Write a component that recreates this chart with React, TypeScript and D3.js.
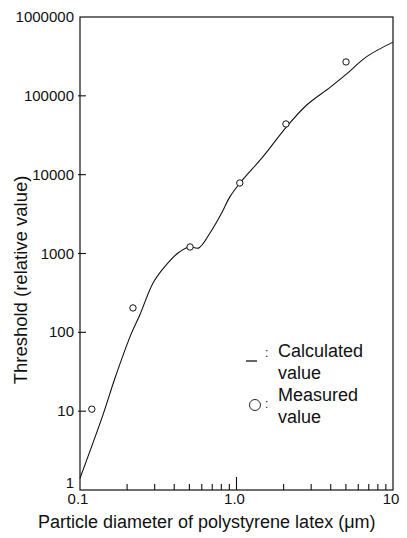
import React, { useRef, useEffect } from "react";
import * as d3 from "d3";

// calculated curve
const calcDiameter = [0.1, 0.14, 0.167, 0.213, 0.241, 0.293, 0.348, 0.423, 0.502, 0.57, 0.677, 0.804, 0.909, 1.053, 1.477, 2.093, 2.81, 3.96, 5.06, 6.79, 10];
const calcThreshold = [1.41, 8.9, 26, 97, 166, 423, 680, 1015, 1220, 1170, 1820, 3270, 5260, 7840, 16900, 40600, 76500, 128000, 190000, 314000, 480000];

// measured points
const measDiameter = [0.119, 0.218, 0.505, 1.05, 2.07, 5.01];
const measThreshold = [10.6, 204, 1210, 7840, 43950, 269000];

const yTicks = [1, 10, 100, 1000, 10000, 100000, 1000000];
const yTickLabels = ["1", "10", "100", "1000", "10000", "100000", "1000000"];
const xTicks = [0.1, 1, 10];
const xTickLabels = ["0.1", "1.0", "10"];
const xMinor = [0.2, 0.3, 0.4, 0.5, 0.6, 0.7, 0.8, 0.9, 2, 3, 4, 5, 6, 7, 8, 9];

const App = () => {
  const svgRef = useRef(null);

  useEffect(() => {
    const svg = d3.select(svgRef.current);
    svg.selectAll("*").remove();
    const font = "'Liberation Sans', Arial, Helvetica, sans-serif";
    const left = 80, right = 393, top = 17, bottom = 490;

    const x = d3.scaleLog().domain([0.1, 10]).range([left, right]);
    const y = d3.scaleLog().domain([1, 1e6]).range([bottom, top]);

    // frame
    svg
      .append("rect")
      .attr("x", left)
      .attr("y", top)
      .attr("width", right - left)
      .attr("height", bottom - top)
      .attr("fill", "none")
      .attr("stroke", "#111")
      .attr("stroke-width", 1.2);

    // y ticks
    svg
      .selectAll("line.yt")
      .data(yTicks.slice(1, -1))
      .join("line")
      .attr("class", "yt")
      .attr("x1", left - 2)
      .attr("x2", left + 6)
      .attr("y1", (d) => y(d))
      .attr("y2", (d) => y(d))
      .attr("stroke", "#111")
      .attr("stroke-width", 1.1);

    svg
      .selectAll("text.yl")
      .data(yTicks)
      .join("text")
      .attr("class", "yl")
      .attr("x", 74)
      .attr("y", (d) => y(d) + (d === 1 ? -2 : 5))
      .attr("text-anchor", "end")
      .style("font-family", font)
      .style("font-size", "15px")
      .attr("fill", "#111")
      .text((d, i) => yTickLabels[i]);

    // x ticks (inward)
    svg
      .selectAll("line.xm")
      .data(xMinor)
      .join("line")
      .attr("class", "xm")
      .attr("x1", (d) => x(d))
      .attr("x2", (d) => x(d))
      .attr("y1", bottom)
      .attr("y2", bottom - 6)
      .attr("stroke", "#111")
      .attr("stroke-width", 1.1);

    svg
      .append("line")
      .attr("x1", x(1))
      .attr("x2", x(1))
      .attr("y1", bottom)
      .attr("y2", bottom - 13)
      .attr("stroke", "#111")
      .attr("stroke-width", 1.1);

    svg
      .selectAll("text.xl")
      .data(xTicks)
      .join("text")
      .attr("class", "xl")
      .attr("x", (d) => x(d) - 2)
      .attr("y", 504)
      .attr("text-anchor", "middle")
      .style("font-family", font)
      .style("font-size", "15px")
      .attr("fill", "#111")
      .text((d, i) => xTickLabels[i]);

    // calculated curve
    const calc = calcDiameter.map((d, i) => [d, calcThreshold[i]]);
    svg
      .append("path")
      .datum(calc)
      .attr("fill", "none")
      .attr("stroke", "#111")
      .attr("stroke-width", 1.1)
      .attr(
        "d",
        d3
          .line()
          .x((d) => x(d[0]))
          .y((d) => y(d[1]))
          .curve(d3.curveCatmullRom.alpha(0.5))
      );

    // measured
    svg
      .selectAll("circle.m")
      .data(measDiameter)
      .join("circle")
      .attr("class", "m")
      .attr("cx", (d) => x(d))
      .attr("cy", (d, i) => y(measThreshold[i]))
      .attr("r", 3.2)
      .attr("fill", "white")
      .attr("stroke", "#111")
      .attr("stroke-width", 1);

    // legend
    const lg = svg.append("g").style("font-family", font).style("font-size", "18px").attr("fill", "#111");
    lg.append("line").attr("x1", 246).attr("x2", 257).attr("y1", 361).attr("y2", 361).attr("stroke", "#111").attr("stroke-width", 1.3);
    lg.append("text").attr("x", 265).attr("y", 357).style("font-size", "12px").text(":");
    lg.append("text").attr("x", 278).attr("y", 357).text("Calculated");
    lg.append("text").attr("x", 278).attr("y", 379).text("value");
    lg.append("circle").attr("cx", 255).attr("cy", 405).attr("r", 5.5).attr("fill", "none").attr("stroke", "#111").attr("stroke-width", 0.9);
    lg.append("text").attr("x", 265).attr("y", 408).style("font-size", "12px").text(":");
    lg.append("text").attr("x", 278).attr("y", 401).text("Measured");
    lg.append("text").attr("x", 278).attr("y", 423).text("value");

    // axis titles
    svg
      .append("text")
      .attr("x", 38)
      .attr("y", 528)
      .style("font-family", font)
      .style("font-size", "18px")
      .attr("fill", "#111")
      .text("Particle diameter of polystyrene latex (\u03bcm)");

    svg
      .append("text")
      .attr("transform", "translate(27,280) rotate(-90)")
      .attr("text-anchor", "middle")
      .style("font-family", font)
      .style("font-size", "18.5px")
      .attr("fill", "#111")
      .text("Threshold (relative value)");
  }, []);

  return (
    <svg
      ref={svgRef}
      width={407}
      height={538}
      style={{ position: "absolute", left: 0, top: 0, background: "white" }}
    ></svg>
  );
};

export default App;
